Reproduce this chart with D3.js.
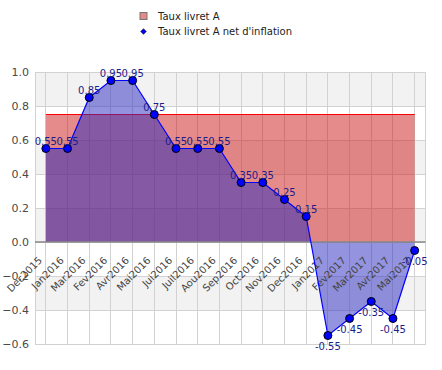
<!DOCTYPE html>
<html>
<head>
<meta charset="utf-8">
<script src="https://cdn.jsdelivr.net/npm/d3@7"></script>
<style>
  body { margin: 0; background: #fff; }
  svg { display: block; font-family: "DejaVu Sans", sans-serif; }
</style>
</head>
<body>
<div id="chart"></div>
<script>
// Monthly rates, Dec 2015 -> Mai 2017 (labels kept as in the source)
const categories = ["Dec2015", "Jan2016", "Mar2016", "Fev2016", "Avr2016", "Mai2016",
  "Jui2016", "Juil2016", "Aou2016", "Sep2016", "Oct2016", "Nov2016", "Dec2016",
  "Jan2017", "Fev2017", "Mar2017", "Avr2017", "Mai2017"];
const tauxLivretA = [0.75, 0.75, 0.75, 0.75, 0.75, 0.75, 0.75, 0.75, 0.75,
  0.75, 0.75, 0.75, 0.75, 0.75, 0.75, 0.75, 0.75, 0.75];
const tauxNetInflation = [0.55, 0.55, 0.85, 0.95, 0.95, 0.75, 0.55, 0.55, 0.55,
  0.35, 0.35, 0.25, 0.15, -0.55, -0.45, -0.35, -0.45, -0.05];
const yTicks = [-0.6, -0.4, -0.2, 0.0, 0.2, 0.4, 0.6, 0.8, 1.0];
const legendLabels = ["Taux livret A", "Taux livret A net d'inflation"];

const width = 442, height = 370;
const plot = { left: 35, right: 425.5, top: 72, bottom: 344 };

const svg = d3.select("#chart").append("svg")
  .attr("width", width)
  .attr("height", height);

const x = d3.scalePoint()
  .domain(categories)
  .range([plot.left, plot.right])
  .padding(0.5);

const y = d3.scaleLinear()
  .domain([-0.6, 1.0])
  .range([plot.bottom, plot.top]);

// --- alternating background bands ---
const bands = d3.pairs(yTicks).filter((d, i) => i % 2 === 1);
svg.append("g")
  .selectAll("rect")
  .data(bands)
  .join("rect")
  .attr("x", plot.left)
  .attr("width", plot.right - plot.left)
  .attr("y", d => y(d[1]))
  .attr("height", d => y(d[0]) - y(d[1]))
  .attr("fill", "#f2f2f2");

// --- grid ---
const grid = svg.append("g")
  .attr("stroke", "#d2d2d2")
  .attr("stroke-width", 1)
  .attr("shape-rendering", "crispEdges");

grid.selectAll(".hgrid")
  .data(yTicks)
  .join("line")
  .attr("x1", plot.left)
  .attr("x2", plot.right)
  .attr("y1", d => y(d))
  .attr("y2", d => y(d));

grid.selectAll(".vgrid")
  .data(categories)
  .join("line")
  .attr("x1", d => x(d))
  .attr("x2", d => x(d))
  .attr("y1", plot.top)
  .attr("y2", plot.bottom);

grid.append("line")
  .attr("x1", plot.left).attr("x2", plot.left)
  .attr("y1", plot.top).attr("y2", plot.bottom);
grid.append("line")
  .attr("x1", plot.right).attr("x2", plot.right)
  .attr("y1", plot.top).attr("y2", plot.bottom);

// --- y axis labels ---
svg.append("g")
  .selectAll("text")
  .data(yTicks)
  .join("text")
  .attr("x", plot.left - 6)
  .attr("y", d => y(d))
  .attr("dy", "0.35em")
  .attr("text-anchor", "end")
  .attr("font-size", 11)
  .attr("fill", "#4a4a4a")
  .text(d => d3.format(".1f")(d));

// --- Taux livret A (area + line) ---
const areaA = d3.area()
  .x((d, i) => x(categories[i]))
  .y0(y(0))
  .y1(d => y(d));

const lineGen = d3.line()
  .x((d, i) => x(categories[i]))
  .y(d => y(d));

svg.append("path")
  .datum(tauxLivretA)
  .attr("d", areaA)
  .attr("fill", "rgb(204,24,24)")
  .attr("fill-opacity", 0.5);

svg.append("path")
  .datum(tauxLivretA)
  .attr("d", lineGen)
  .attr("fill", "none")
  .attr("stroke", "#ff0000")
  .attr("stroke-width", 1.2);

// --- net d'inflation (area) ---
svg.append("path")
  .datum(tauxNetInflation)
  .attr("d", areaA)
  .attr("fill", "rgb(40,40,192)")
  .attr("fill-opacity", 0.5);

// zero line
svg.append("line")
  .attr("x1", plot.left)
  .attr("x2", plot.right)
  .attr("y1", y(0))
  .attr("y2", y(0))
  .attr("stroke", "#888")
  .attr("stroke-width", 1.5);

// --- x axis labels (rotated) ---
svg.append("g")
  .selectAll("text")
  .data(categories)
  .join("text")
  .attr("transform", d => `translate(${x(d) - 3},${y(0) + 19}) rotate(-45)`)
  .attr("text-anchor", "end")
  .attr("font-size", 10)
  .attr("fill", "#444")
  .text(d => d);

// --- net d'inflation line + markers ---
svg.append("path")
  .datum(tauxNetInflation)
  .attr("d", lineGen)
  .attr("fill", "none")
  .attr("stroke", "#0000ff")
  .attr("stroke-width", 1.2);

svg.append("g")
  .selectAll("circle")
  .data(tauxNetInflation)
  .join("circle")
  .attr("cx", (d, i) => x(categories[i]))
  .attr("cy", d => y(d))
  .attr("r", 4)
  .attr("fill", "#0000ff")
  .attr("stroke", "#000")
  .attr("stroke-width", 1);

// value labels
svg.append("g")
  .selectAll("text")
  .data(tauxNetInflation)
  .join("text")
  .attr("x", (d, i) => x(categories[i]))
  .attr("y", d => d >= 0 ? y(d) - 4 : y(d) + 14)
  .attr("text-anchor", "middle")
  .attr("font-size", 10)
  .attr("fill", "#1c1c8c")
  .text(d => d);

// --- legend ---
const legend = svg.append("g").attr("font-size", 10).attr("fill", "#222");

legend.append("rect")
  .attr("x", 140).attr("y", 12.5)
  .attr("width", 7).attr("height", 7)
  .attr("fill", "rgb(229,137,137)")
  .attr("stroke", "#777")
  .attr("stroke-width", 1);

legend.append("rect")
  .attr("x", -2).attr("y", -2)
  .attr("width", 4).attr("height", 4)
  .attr("transform", "translate(143.5,31.5) rotate(45)")
  .attr("fill", "#0000ff")
  .attr("stroke", "#000")
  .attr("stroke-width", 0.5);

legend.selectAll("text")
  .data(legendLabels)
  .join("text")
  .attr("x", 158)
  .attr("y", (d, i) => 19.5 + i * 15)
  .text(d => d);
</script>
</body>
</html>
